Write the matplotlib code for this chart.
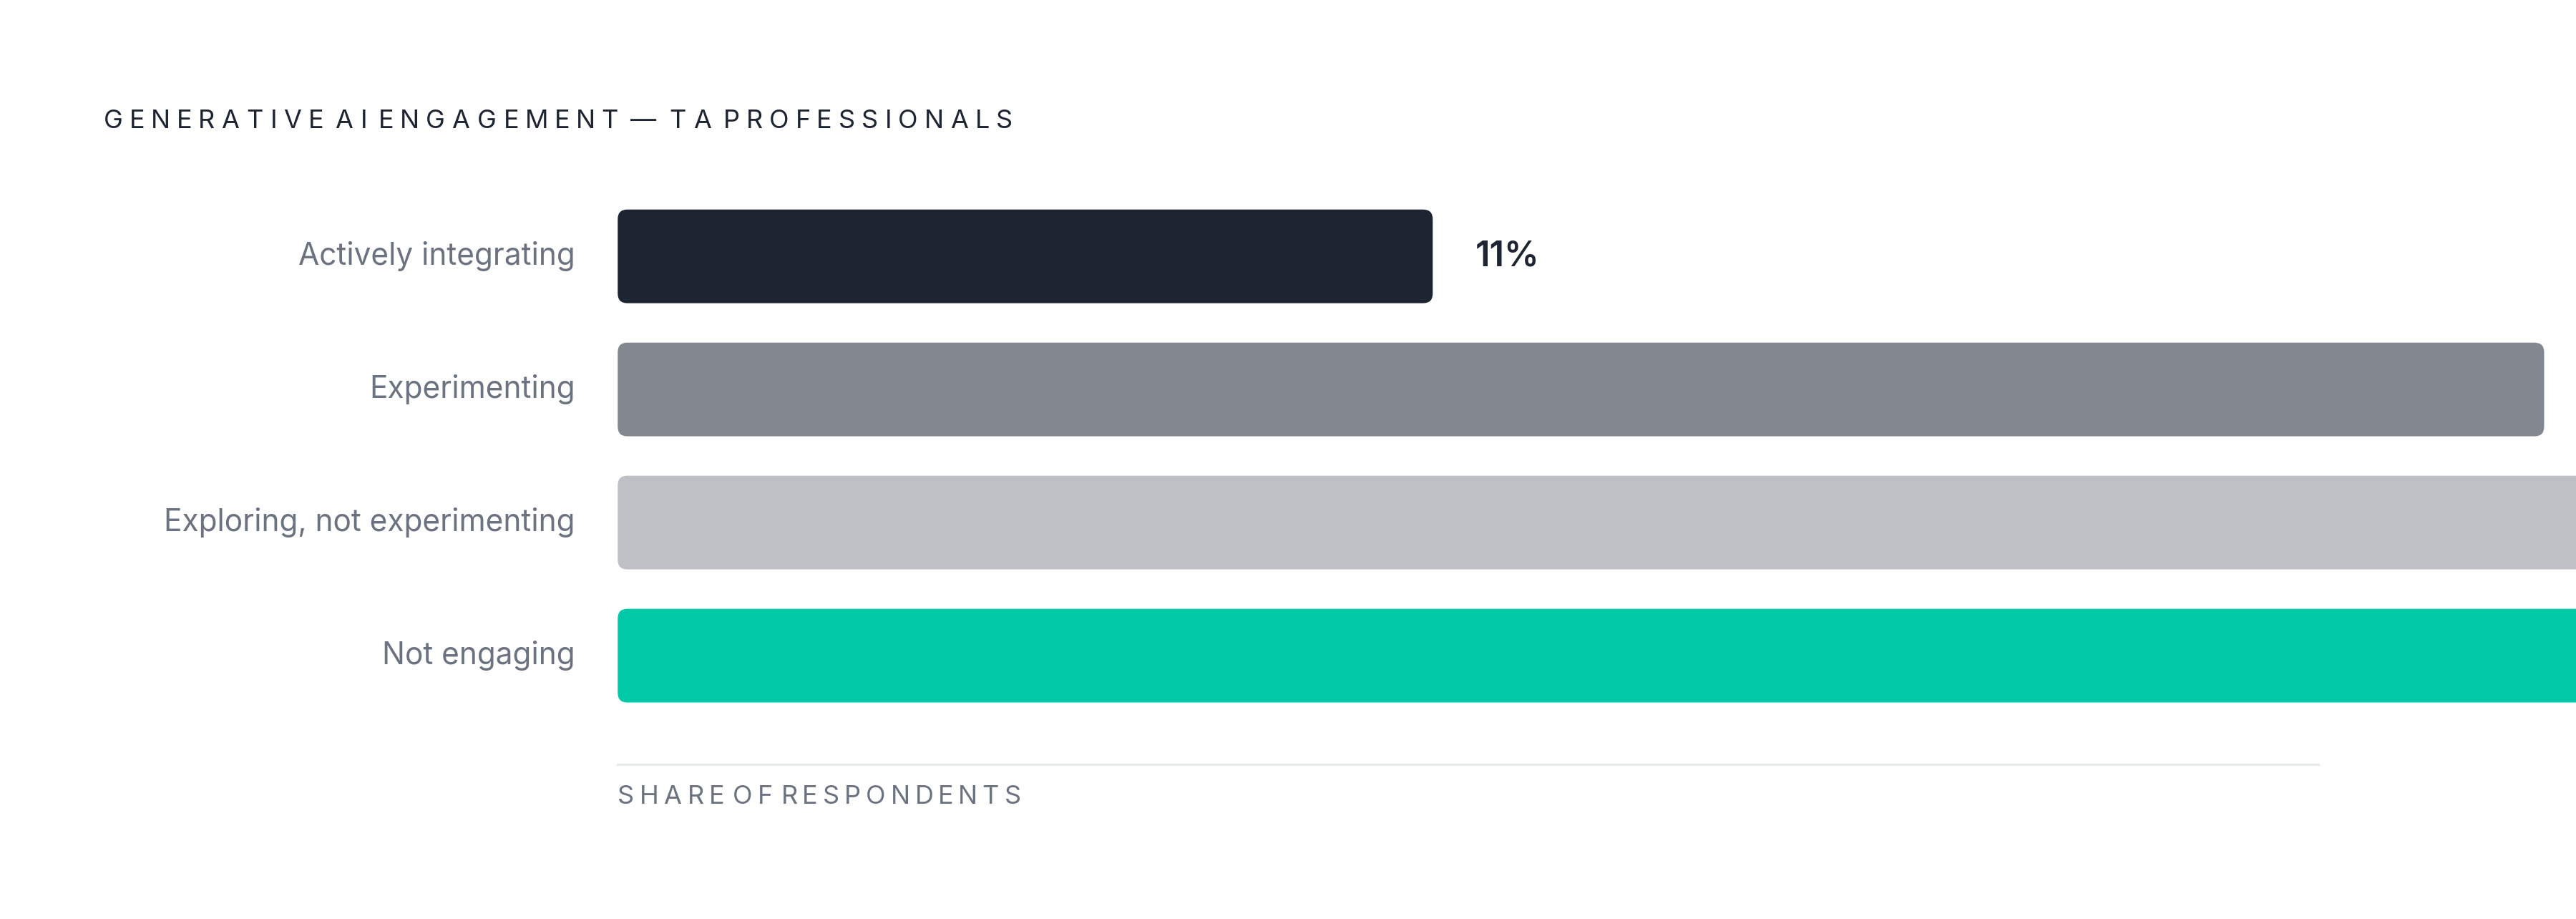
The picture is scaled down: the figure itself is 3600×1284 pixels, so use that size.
import matplotlib
matplotlib.use("Agg")
import matplotlib.pyplot as plt
from matplotlib.patches import FancyBboxPatch
from matplotlib.textpath import TextPath
from matplotlib.font_manager import FontProperties

plt.rcParams['font.family'] = ['Inter', 'DejaVu Sans']

categories = ["Actively integrating", "Experimenting", "Exploring, not experimenting", "Not engaging"]
values = [11, 26, 36, 29]
colors = ["#1e2532", "#838790", "#bdc0c4", "#00c9a7"]
title = "GENERATIVE AI ENGAGEMENT — TA PROFESSIONALS"
x_label = "SHARE OF RESPONDENTS"

W, H = 3600, 1284
fig = plt.figure(figsize=(W / 100, H / 100), dpi=100)
s = W / 1568  # reference display scale

def fy(py):
    return 1 - py * s / H

def fx(px):
    return px * s / W

# axes from display px x 376..1568, y 100..470
ax = fig.add_axes([fx(376), fy(470), 1 - fx(376), fy(100) - fy(470)])
xmax = 1192 / 45.1
ax.set_xlim(0, xmax)
ax.set_ylim((470 - 156) / 81, (100 - 156) / 81)
ax.axis("off")

bar_h = 57 / 81
for i, (v, c) in enumerate(zip(values, colors)):
    p = FancyBboxPatch((0, i - bar_h / 2), v, bar_h,
                       boxstyle="round,pad=0,rounding_size=0.13",
                       mutation_aspect=0.56, fc=c, ec="none", clip_on=True)
    ax.add_patch(p)
    ax.text(-26 / 45.1, i, categories[i], ha="right", va="center",
            fontsize=30.5, color="#6b7280", clip_on=False)
    # value labels past the right edge fall outside the picture, as in the reference
    if v + 26 / 45.1 < xmax - 2:
        ax.text(v + 26 / 45.1, i, f"{v}%", ha="left", va="center",
                fontsize=35, fontweight="semibold", color="#1e2532")

ax.plot([0, 1035 / 45.1], [(465 - 156) / 81] * 2, color="#e5e7eb", lw=2, clip_on=False)

def tracked(text, x, y, size, color, tracking):
    fp = FontProperties(family="Inter", size=size)
    bar_w = TextPath((0, 0), "|", prop=fp).get_extents().width
    cx = x
    for ch in text:
        fig.text(cx, y, ch, fontproperties=fp, color=color, ha="left", va="center")
        adv = TextPath((0, 0), ch + "|", prop=fp).get_extents().width - bar_w
        cx += (adv * 100 / 72 + tracking) / W

tracked(title, fx(63), fy(74), 26, "#1e2532", 7)
tracked(x_label, fx(376), fy(485), 26, "#6b7280", 5)

fig.savefig("out.png", dpi=100, facecolor="white")
